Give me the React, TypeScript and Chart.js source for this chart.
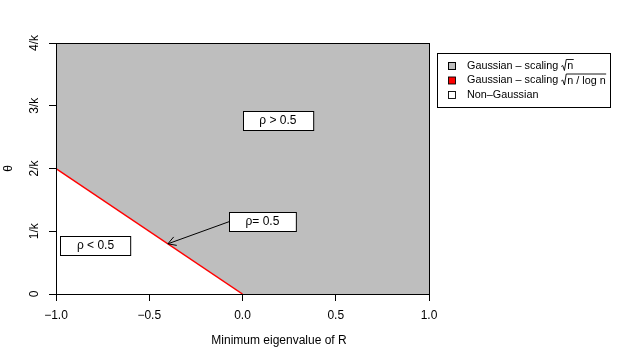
import React, { useEffect, useRef } from "react";
import { Chart, registerables } from "chart.js";

Chart.register(...registerables);

// ---- data ----
const xTicks = [-1, -0.5, 0, 0.5, 1];
const xTickLabels = ["\u22121.0", "\u22120.5", "0.0", "0.5", "1.0"];
const yTicks = [0, 1, 2, 3, 4];
const yTickLabels = ["0", "1/k", "2/k", "3/k", "4/k"];
const boundaryX = [-1, 0, 1];
const boundaryY = [2, 0, 0];
const redX = [-1, 0];
const redY = [2, 0];
const annoLabels = ["\u03c1 > 0.5", "\u03c1= 0.5", "\u03c1 < 0.5"];
const annoX = [0.19, 0.107, -0.788];
const annoY = [2.757, 1.155, 0.773];
const arrowTip = [-0.4, 0.8];
const legendPrefix = ["Gaussian \u2013 scaling ", "Gaussian \u2013 scaling ", "Non\u2013Gaussian"];
const legendRadicand = ["n", "n / log n", ""];
const legendColors = ["#BEBEBE", "#FF0000", "#FFFFFF"];
const xTitle = "Minimum eigenvalue of R";
const yTitle = "\u03b8";

const FONT = "'Liberation Sans', Arial, Helvetica, sans-serif";

export default function App() {
  const ref = useRef<HTMLCanvasElement | null>(null);

  useEffect(() => {
    document.body.style.margin = "0";
    const canvas = ref.current;
    if (!canvas) return;

    const overlay = {
      id: "overlay",
      beforeDraw(chart: any) {
        const ctx = chart.ctx;
        ctx.save();
        ctx.fillStyle = "#ffffff";
        ctx.fillRect(0, 0, chart.width, chart.height);
        ctx.restore();
      },
      afterDatasetsDraw(chart: any) {
        const ctx = chart.ctx;
        const a = chart.chartArea;
        ctx.save();
        ctx.strokeStyle = "#000";
        ctx.lineWidth = 1;
        ctx.strokeRect(Math.round(a.left) + 0.5, Math.round(a.top) + 0.5, Math.round(a.right - a.left), Math.round(a.bottom - a.top));
        ctx.restore();
      },
      afterDraw(chart: any) {
        const ctx = chart.ctx;
        const xs = chart.scales.x;
        const ys = chart.scales.y;
        const a = chart.chartArea;
        ctx.save();
        ctx.fillStyle = "#000";
        ctx.strokeStyle = "#000";
        // y tick labels (rotated)
        ctx.font = `12px ${FONT}`;
        ctx.textAlign = "center";
        ctx.textBaseline = "middle";
        yTicks.forEach((v, i) => {
          const py = ys.getPixelForValue(v);
          ctx.save();
          ctx.translate(a.left - 21, py);
          ctx.rotate(-Math.PI / 2);
          ctx.fillText(yTickLabels[i], 0, 0);
          ctx.restore();
        });
        // y title
        ctx.save();
        ctx.translate(9, (a.top + a.bottom) / 2);
        ctx.rotate(-Math.PI / 2);
        ctx.fillText(yTitle, 0, 0);
        ctx.restore();
        // x title
        ctx.fillText(xTitle, 279, 341);

        // annotation boxes
        const boxes: any[] = [];
        annoLabels.forEach((t, i) => {
          const cx = xs.getPixelForValue(annoX[i]);
          const cy = ys.getPixelForValue(annoY[i]);
          const w = ctx.measureText(t).width + 33;
          const h = 19;
          const l = Math.round(cx - w / 2) + 0.5;
          const tp = Math.round(cy - h / 2) + 0.5;
          ctx.fillStyle = "#fff";
          ctx.fillRect(l, tp, w, h);
          ctx.strokeRect(l, tp, w, h);
          ctx.fillStyle = "#000";
          ctx.fillText(t, cx, cy);
          boxes.push({ l, cy });
        });
        // arrow from "ρ= 0.5" box
        const sx = boxes[1].l;
        const sy = boxes[1].cy;
        const tx = xs.getPixelForValue(arrowTip[0]);
        const ty = ys.getPixelForValue(arrowTip[1]);
        ctx.lineWidth = 1;
        ctx.beginPath();
        ctx.moveTo(sx, sy);
        ctx.lineTo(tx, ty);
        const ang = Math.atan2(sy - ty, sx - tx);
        const hl = 9;
        ctx.moveTo(tx + hl * Math.cos(ang + Math.PI / 6), ty + hl * Math.sin(ang + Math.PI / 6));
        ctx.lineTo(tx, ty);
        ctx.lineTo(tx + hl * Math.cos(ang - Math.PI / 6), ty + hl * Math.sin(ang - Math.PI / 6));
        ctx.stroke();

        // legend
        const lx = 437.5, ly = 53.5, lw = 173, lh = 54;
        ctx.strokeRect(lx, ly, lw, lh);
        ctx.font = `10.8px ${FONT}`;
        ctx.textAlign = "left";
        ctx.textBaseline = "middle";
        const rows = [66, 80.5, 95];
        legendPrefix.forEach((p, i) => {
          const ry = rows[i];
          ctx.fillStyle = legendColors[i];
          ctx.fillRect(448.5, ry - 3.5, 7, 7);
          ctx.strokeStyle = "#000";
          ctx.strokeRect(448.5, ry - 3.5, 7, 7);
          ctx.fillStyle = "#000";
          let x = 467;
          ctx.fillText(p, x, ry);
          x += ctx.measureText(p).width;
          const r = legendRadicand[i];
          if (r) {
            // radical sign
            ctx.lineWidth = 0.9;
            ctx.beginPath();
            ctx.moveTo(x, ry + 0.5);
            ctx.lineTo(x + 1.5, ry - 0.5);
            ctx.lineTo(x + 3.2, ry + 4.5);
            ctx.lineTo(x + 5, ry - 6.5);
            const rw = ctx.measureText(r).width;
            ctx.lineTo(x + 6 + rw + 0.5, ry - 6.5);
            ctx.stroke();
            ctx.fillText(r, x + 6, ry + 0.5);
          }
        });
        ctx.restore();
      },
    };

    const chart = new Chart(canvas, {
      type: "scatter",
      data: {
        datasets: [
          {
            data: redX.map((x, i) => ({ x, y: redY[i] })),
            showLine: true,
            borderColor: "#FF0000",
            borderWidth: 1.5,
            pointRadius: 0,
            fill: false,
          },
          {
            data: boundaryX.map((x, i) => ({ x, y: boundaryY[i] })),
            showLine: true,
            borderColor: "rgba(0,0,0,0)",
            borderWidth: 0,
            backgroundColor: "#BEBEBE",
            pointRadius: 0,
            fill: "end",
          },
        ],
      },
      options: {
        responsive: false,
        animation: false,
        events: [],
        layout: { padding: { top: 43, right: 201, left: 0, bottom: 0 } },
        plugins: {
          legend: { display: false },
          tooltip: { enabled: false },
          filler: { propagate: false },
        },
        scales: {
          x: {
            type: "linear",
            min: -1,
            max: 1,
            afterBuildTicks: (s: any) => {
              s.ticks = xTicks.map((v) => ({ value: v }));
            },
            afterFit: (s: any) => {
              s.height = 56;
            },
            grid: { drawOnChartArea: false, drawTicks: true, tickLength: 7, color: "#000", lineWidth: 1 },
            border: { display: true, color: "#000", width: 1 },
            ticks: {
              padding: 7,
              color: "#000",
              font: { family: FONT, size: 12 },
              maxRotation: 0,
              minRotation: 0,
              callback: (v: any) => {
                const i = xTicks.indexOf(Number(v));
                return i >= 0 ? xTickLabels[i] : "";
              },
            },
          },
          y: {
            type: "linear",
            min: 0,
            max: 4,
            afterBuildTicks: (s: any) => {
              s.ticks = yTicks.map((v) => ({ value: v }));
            },
            afterFit: (s: any) => {
              s.width = 56;
            },
            grid: { drawOnChartArea: false, drawTicks: true, tickLength: 7, color: "#000", lineWidth: 1 },
            border: { display: true, color: "#000", width: 1 },
            ticks: { display: false },
          },
        },
      },
      plugins: [overlay],
    } as any);

    return () => chart.destroy();
  }, []);

  return (
    <div style={{ width: 630, height: 350 }}>
      <canvas ref={ref} width={630} height={350} style={{ display: "block" }} />
    </div>
  );
}
